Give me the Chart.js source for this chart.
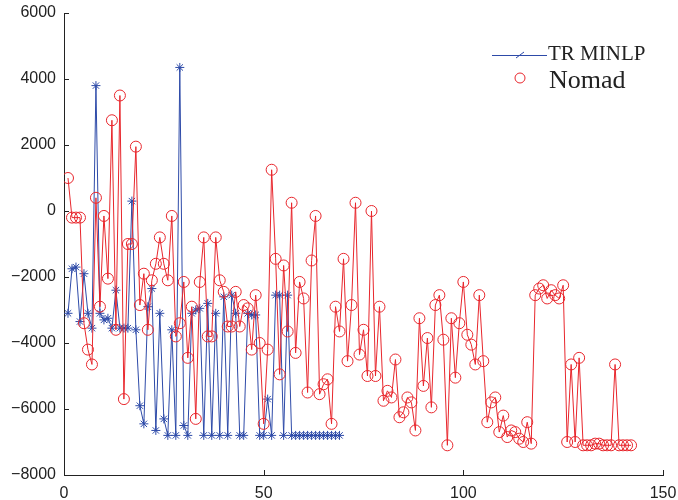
<!DOCTYPE html>
<html>
<head>
<meta charset="utf-8">
<script src="https://cdn.jsdelivr.net/npm/chart.js@4.4.0/dist/chart.umd.min.js"></script>
<style>
    html, body { margin: 0; padding: 0; background: #fff; }
    #wrap { width: 678px; height: 500px; position: relative; }
</style>
</head>
<body>
<div id="wrap"><canvas id="chart-1"></canvas></div>
<script>

// objective value per iteration, x = 1..n
const trMinlp = [
    -3100, -1750, -1700, -3350, -1900, -3100, -3550, 3800, -3100, -3300,
    -3250, -3550, -2400, -3550, -3550, -3550, 300, -3600, -5900, -6450,
    -2900, -2350, -6650, -3100, -6300, -6800, -3600, -6800, 4350, -6500,
    -6800, -3100, -3000, -2950, -6800, -2800, -6800, -3100, -6800, -2600,
    -6800, -2550, -3100, -6800, -6800, -3100, -3150, -3150, -6800, -6800,
    -5700, -6800, -2550, -2550, -6800, -2550, -6800, -6800, -6800, -6800,
    -6800, -6800, -6800, -6800, -6800, -6800, -6800, -6800, -6800
]
const nomad = [
    1000, -200, -200, -200, -3400, -4200, -4650, 400, -2900, -150,
    -2050, 2750, -3600, 3500, -5700, -1000, -1000, 1950, -2850, -1900,
    -3600, -2100, -1600, -800, -1600, -2100, -150, -3800, -3400, -2150,
    -4450, -2900, -6300, -2150, -800, -3800, -3800, -800, -2100, -2450,
    -3500, -3500, -2450, -3500, -2850, -2950, -4200, -2550, -4000, -6450,
    -4200, 1250, -1450, -4950, -1650, -3650, 250, -4300, -2150, -2650,
    -5500, -1500, -150, -5550, -5250, -5100, -6450, -2900, -3650, -1450,
    -4550, -2850, 250, -4350, -3600, -5000, 0, -5000, -2900, -5750,
    -5450, -5650, -4500, -6250, -6100, -5650, -5800, -6650, -3250, -5300,
    -3850, -5950, -2850, -2550, -3900, -7100, -3250, -5050, -3400, -2150,
    -3750, -4050, -4650, -2550, -4550, -6400, -5800, -5650, -6700, -6200,
    -6850, -6650, -6700, -6900, -7000, -6400, -7050, -2550, -2350, -2250,
    -2650, -2400, -2550, -2650, -2250, -7000, -4650, -7000, -4450, -7100,
    -7100, -7100, -7050, -7050, -7100, -7100, -7100, -4650, -7100, -7100,
    -7100, -7100
]
const seriesNames = ['TR MINLP', 'Nomad']
const xTicks = [0, 50, 100, 150]
const yTicks = [-8000, -6000, -4000, -2000, 0, 2000, 4000, 6000]

const blue = '#2d4aa8'
const red = '#e8262c'

const toPoints = arr => arr.map((v, i) => ({ x: i + 1, y: v }))

// small tick marks drawn on the inside of the axes
const innerTicks = {
    id: 'innerTicks',
    afterDraw(chart) {
        const { ctx, chartArea: a, scales: { x, y } } = chart;
        ctx.save();
        ctx.strokeStyle = '#222';
        ctx.lineWidth = 1;
        ctx.beginPath();
        xTicks.forEach(t => {
            const px = Math.round(x.getPixelForValue(t)) + 0.5;
            ctx.moveTo(px, a.bottom);
            ctx.lineTo(px, a.bottom - 5);
        });
        yTicks.forEach(t => {
            const py = Math.round(y.getPixelForValue(t)) + 0.5;
            ctx.moveTo(a.left, py);
            ctx.lineTo(a.left + 5, py);
        });
        ctx.stroke();
        ctx.restore();
    }
};

// legend in the top right corner of the plot
const plotLegend = {
    id: 'plotLegend',
    afterDraw(chart) {
        const ctx = chart.ctx;
        ctx.save();
        ctx.lineWidth = 1;
        ctx.strokeStyle = blue;
        ctx.beginPath();
        ctx.moveTo(492, 55.5);
        ctx.lineTo(547, 55.5);
        ctx.moveTo(516, 58);
        ctx.lineTo(524, 52);
        ctx.stroke();

        ctx.strokeStyle = red;
        ctx.beginPath();
        ctx.arc(520, 78, 5, 0, Math.PI * 2);
        ctx.stroke();

        ctx.fillStyle = '#222';
        ctx.textBaseline = 'alphabetic';
        ctx.textAlign = 'left';
        ctx.font = '21px "Liberation Serif"';
        ctx.fillText(seriesNames[0], 548, 60);
        ctx.font = '26px "Liberation Serif"';
        ctx.fillText(seriesNames[1], 549, 88);
        ctx.restore();
    }
};

const ctx1 = document.getElementById('chart-1');

new Chart(ctx1, {
    type: 'line',
    data: {
        datasets: [
            {
                label: seriesNames[0],
                data: toPoints(trMinlp),
                borderColor: blue,
                borderWidth: 1,
                pointStyle: 'star',
                pointRadius: 4.5,
                pointBorderColor: blue,
                pointBorderWidth: 1,
                pointBackgroundColor: blue,
                tension: 0,
                order: 1
            },
            {
                label: seriesNames[1],
                data: toPoints(nomad),
                borderColor: red,
                borderWidth: 1,
                pointStyle: 'circle',
                pointRadius: 5.5,
                pointBorderColor: red,
                pointBorderWidth: 1,
                pointBackgroundColor: 'rgba(0,0,0,0)',
                tension: 0,
                order: 0
            }
        ]
    },
    options: {
        responsive: true,
        maintainAspectRatio: false,
        animation: false,
        layout: {
            padding: { left: 0, right: 15, top: 13, bottom: 0 }
        },
        plugins: {
            legend: { display: false },
            tooltip: { enabled: false }
        },
        scales: {
            x: {
                type: 'linear',
                min: 0,
                max: 150,
                afterBuildTicks: scale => { scale.ticks = xTicks.map(v => ({ value: v })) },
                afterFit: scale => {
                    scale.height = 25;
                    scale.paddingLeft = 0;
                    scale.paddingRight = 0;
                },
                grid: { display: false, drawTicks: false },
                border: { display: true, color: '#222', width: 1 },
                ticks: {
                    color: '#222',
                    padding: 9,
                    maxRotation: 0,
                    font: { family: 'Liberation Sans', size: 16 }
                }
            },
            y: {
                type: 'linear',
                min: -8000,
                max: 6000,
                afterBuildTicks: scale => { scale.ticks = yTicks.map(v => ({ value: v })) },
                afterFit: scale => {
                    scale.width = 64;
                    scale.paddingTop = 0;
                    scale.paddingBottom = 0;
                },
                grid: { display: false, drawTicks: false },
                border: { display: true, color: '#222', width: 1 },
                ticks: {
                    color: '#222',
                    padding: 8,
                    font: { family: 'Liberation Sans', size: 16 },
                    callback: v => String(v).replace('-', '\u2212')
                }
            }
        }
    },
    plugins: [innerTicks, plotLegend]
});
</script>
</body>
</html>
